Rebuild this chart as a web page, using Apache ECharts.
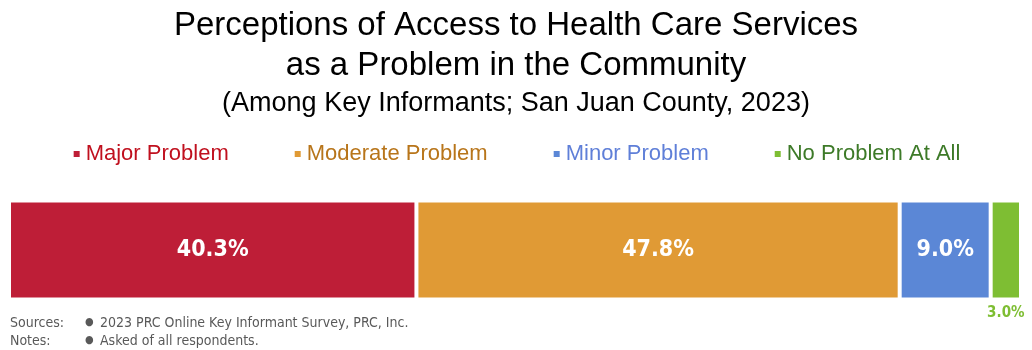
<!DOCTYPE html>
<html><head><meta charset="utf-8">
<script src="https://cdn.jsdelivr.net/npm/echarts@6/dist/echarts.min.js"></script>
<style>html,body{margin:0;padding:0;background:#fff}#c{width:1032px;height:350px}</style>
</head><body><div id="c"></div>
<script>
const categories = ['San Juan County'];
const seriesNames = ['Major Problem', 'Moderate Problem', 'Minor Problem', 'No Problem At All'];
const majorValues = [40.3];
const moderateValues = [47.8];
const minorValues = [9.0];
const noProblemValues = [3.0];
const barColors = ['#BE1E37', '#E09A35', '#5B87D6', '#7EBE33'];
const legendTextColors = ['#C0101E', '#B8751A', '#5F7FD8', '#3D7A28'];
const allValues = [majorValues, moderateValues, minorValues, noProblemValues];

const chart = echarts.init(document.getElementById('c'), null, {renderer: 'canvas'});
const narrow = "'DejaVu Sans Condensed', 'Liberation Sans Narrow', sans-serif";
const sans = "'Liberation Sans', Arial, sans-serif";
const series = seriesNames.map((name, i) => ({
  name: name,
  type: 'bar',
  stack: 'total',
  barWidth: 99,
  data: allValues[i],
  itemStyle: {color: barColors[i], borderColor: '#fff', borderWidth: 2},
  label: i < 3 ? {
    show: true, position: 'inside', color: '#fff', fontFamily: narrow,
    fontWeight: 'bold', fontSize: 23, formatter: p => p.value.toFixed(1) + '%'
  } : {
    show: true, position: 'bottom', distance: 6, color: '#7EBE33', fontFamily: narrow,
    fontWeight: 'bold', fontSize: 15, formatter: p => p.value.toFixed(1) + '%'
  }
}));

chart.setOption({
  animation: false,
  title: [{
    text: 'Perceptions of Access to Health Care Services\nas a Problem in the Community',
    left: 'center', top: 1,
    textStyle: {fontFamily: sans, fontSize: 33, fontWeight: 'normal', color: '#000', lineHeight: 40}
  }, {
    text: '(Among Key Informants; San Juan County, 2023)',
    left: 'center', top: 85,
    textStyle: {fontFamily: sans, fontSize: 27, fontWeight: 'normal', color: '#000', lineHeight: 28}
  }],
  legend: {
    top: 138, left: 'center',
    itemWidth: 8, itemHeight: 8, itemGap: 64, icon: 'rect',
    data: seriesNames.map((n, i) => ({name: n, textStyle: {color: legendTextColors[i]}})),
    textStyle: {fontFamily: sans, fontSize: 22}
  },
  grid: {left: 9, right: 11, top: 201, bottom: 51, containLabel: false},
  xAxis: {type: 'value', min: 0, max: 100.1, show: false},
  yAxis: {type: 'category', data: categories, show: false},
  series: series,
  graphic: [
    {type: 'text', left: 10, top: 316, style: {text: 'Sources:', fontFamily: narrow, fontSize: 14, fill: '#595959'}},
    {type: 'text', left: 10, top: 334, style: {text: 'Notes:', fontFamily: narrow, fontSize: 14, fill: '#595959'}},
    {type: 'text', left: 85, top: 317, style: {text: '\u25CF', fontFamily: narrow, fontSize: 11, fill: '#595959'}},
    {type: 'text', left: 85, top: 335, style: {text: '\u25CF', fontFamily: narrow, fontSize: 11, fill: '#595959'}},
    {type: 'text', left: 100, top: 316, style: {text: '2023 PRC Online Key Informant Survey, PRC, Inc.', fontFamily: narrow, fontSize: 14, fill: '#595959'}},
    {type: 'text', left: 100, top: 334, style: {text: 'Asked of all respondents.', fontFamily: narrow, fontSize: 14, fill: '#595959'}}
  ]
});
</script></body></html>
